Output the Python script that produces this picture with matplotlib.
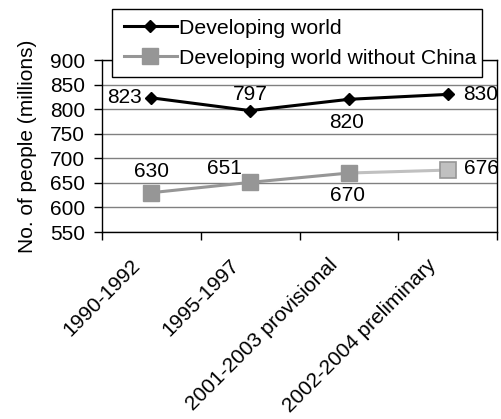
import matplotlib
matplotlib.use("Agg")
import matplotlib.pyplot as plt
from matplotlib.lines import Line2D
from matplotlib.patches import Rectangle
from matplotlib.transforms import ScaledTranslation, blended_transform_factory

plt.rcParams['font.family'] = ['Liberation Sans', 'DejaVu Sans']

categories = ["1990-1992", "1995-1997", "2001-2003 provisional", "2002-2004 preliminary"]
developing = [823, 797, 820, 830]
without_china = [630, 651, 670, 676]
y_ticks = [550, 600, 650, 700, 750, 800, 850, 900]

FS = 15
W, H = 502, 419
fig = plt.figure(figsize=(W / 100, H / 100), dpi=100)
ax = fig.add_axes([102 / W, (H - 232) / H, (497 - 102) / W, (232 - 60) / H])

x = list(range(len(categories)))

# horizontal gridlines
ax.set_ylim(550, 900)
ax.set_yticks(y_ticks)
ax.yaxis.grid(True, color="#808080", linewidth=1)
ax.set_axisbelow(True)

# series lines
dark_gray = "#969696"
light_gray = "#c0c0c0"
ax.plot(x[:3], without_china[:3], color=dark_gray, linewidth=2.2, zorder=3)
ax.plot(x[2:], without_china[2:], color=light_gray, linewidth=2.2, zorder=3)
ax.plot(x[:3], without_china[:3], linestyle="none", marker="s", markersize=11.5,
        markerfacecolor=dark_gray, markeredgecolor=dark_gray, zorder=4)
ax.plot(x[3:], without_china[3:], linestyle="none", marker="s", markersize=11,
        markerfacecolor=light_gray, markeredgecolor=dark_gray, markeredgewidth=1.2, zorder=4)

ax.plot(x, developing, color="black", linewidth=2.2, marker="D", markersize=6.5,
        markerfacecolor="black", markeredgecolor="black", zorder=5)

# value labels (offsets in pixels)
dev_offsets = [(-9, 0, "right", "center"), (0, 16, "center", "center"),
               (-2, -23, "center", "center"), (16, 0, "left", "center")]
wc_offsets = [(0, 21, "center", "center"), (-26, 14, "center", "center"),
              (-1, -22, "center", "center"), (16, 2, "left", "center")]
for xi, v, (dx, dy, ha, va) in zip(x, developing, dev_offsets):
    ax.annotate(str(v), (xi, v), xytext=(dx, dy), textcoords="offset pixels",
                ha=ha, va=va, fontsize=FS, zorder=6, annotation_clip=False)
for xi, v, (dx, dy, ha, va) in zip(x, without_china, wc_offsets):
    ax.annotate(str(v), (xi, v), xytext=(dx, dy), textcoords="offset pixels",
                ha=ha, va=va, fontsize=FS, zorder=6, annotation_clip=False)

# category axis with ticks between categories
ax.set_xlim(-0.5, len(categories) - 0.5)
ax.set_xticks([i - 0.5 for i in range(len(categories) + 1)])
ax.set_xticklabels([])
ax.tick_params(axis="x", which="major", direction="out", length=6, width=1)
ax.tick_params(axis="y", direction="out", length=6, width=1, pad=6, labelsize=FS)

# rotated category labels
label_trans = blended_transform_factory(ax.transData, ax.transAxes) + \
    ScaledTranslation(-21 / 100, -23.5 / 100, fig.dpi_scale_trans)
for xi, cat in zip(x, categories):
    ax.text(xi, 0, cat, transform=label_trans, rotation=45, ha="right", va="top",
            rotation_mode="anchor", fontsize=FS, clip_on=False)

for side in ["top", "right"]:
    ax.spines[side].set_visible(True)
    ax.spines[side].set_color("black")
    ax.spines[side].set_linewidth(1)
for side in ["left", "bottom"]:
    ax.spines[side].set_color("black")
    ax.spines[side].set_linewidth(1)

fig.text(28 / W, 1 - 146 / H, "No. of people (millions)", rotation=90,
         ha="center", va="center", fontsize=FS)

# legend box
fig.patches.append(Rectangle((112 / W, 1 - 77 / H), 370 / W, 68 / H,
                             transform=fig.transFigure, facecolor="white",
                             edgecolor="black", linewidth=1, zorder=9))

handles = [
    Line2D([], [], color="black", linewidth=2.2, marker="D", markersize=6.5),
    Line2D([], [], color=dark_gray, linewidth=2.2, marker="s", markersize=11.5),
]
leg = fig.legend(handles, ["Developing world", "Developing world without China"],
                 loc="upper left", bbox_to_anchor=(114 / W, 1 - 9 / H),
                 bbox_transform=fig.transFigure, fontsize=15.3, frameon=False,
                 handlelength=2.5, handletextpad=0.12,
                 labelspacing=0.52, borderpad=0.45, borderaxespad=0)
leg.set_zorder(10)

fig.savefig("out.png", dpi=100)
